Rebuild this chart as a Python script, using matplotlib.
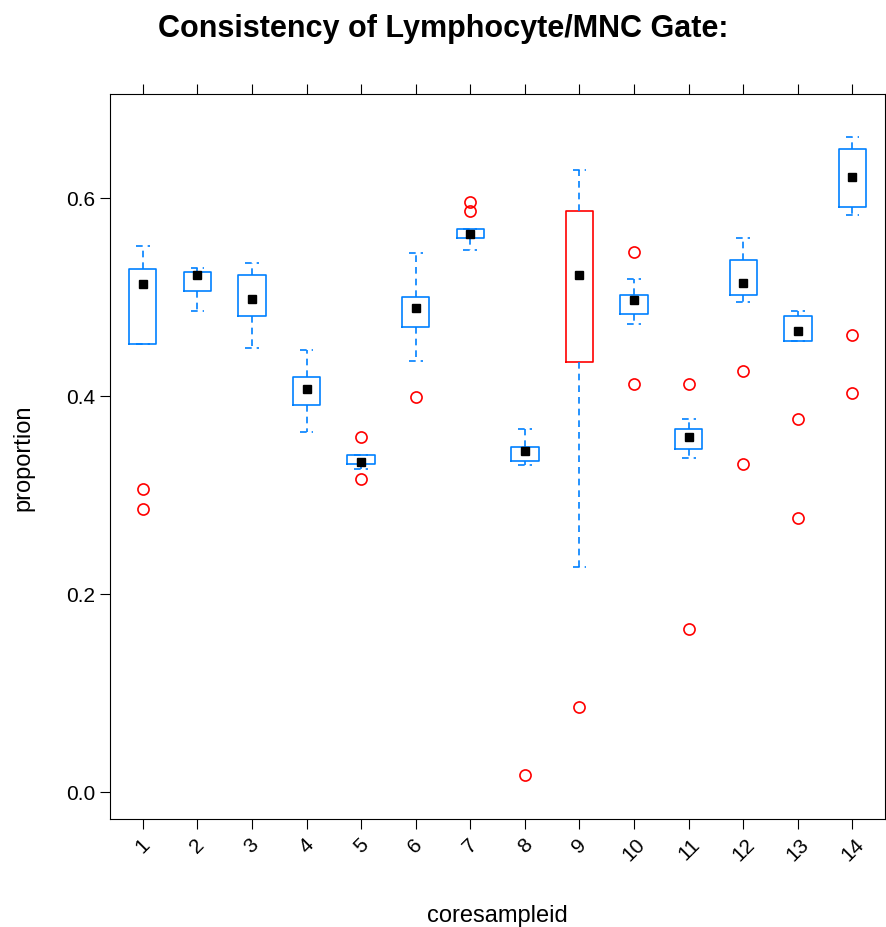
import matplotlib
matplotlib.use("Agg")
import matplotlib.pyplot as plt
plt.rcParams['font.family'] = ['Liberation Sans', 'DejaVu Sans']

categories = [str(i) for i in range(1, 15)]
whislo = [0.452,0.485,0.448,0.363,0.326,0.435,0.547,0.330,0.227,0.472,0.337,0.495,0.455,0.582]
q1     = [0.452,0.506,0.480,0.391,0.331,0.469,0.559,0.334,0.434,0.482,0.346,0.502,0.455,0.591]
med    = [0.513,0.522,0.498,0.407,0.333,0.488,0.563,0.344,0.522,0.497,0.358,0.514,0.465,0.621]
q3     = [0.528,0.525,0.522,0.419,0.340,0.500,0.568,0.348,0.586,0.502,0.366,0.537,0.480,0.649]
whishi = [0.551,0.529,0.534,0.446,0.340,0.544,0.568,0.366,0.628,0.518,0.376,0.559,0.485,0.661]
fliers = [[0.306,0.285],[],[],[],[0.358,0.316],[0.399],[0.596,0.586],[0.017],[0.085],
          [0.545,0.412],[0.412,0.164],[0.425,0.331],[0.376,0.276],[0.461,0.403]]
highlight = ["9"]

fig = plt.figure(figsize=(8.87, 9.28), dpi=100)
ax = fig.add_axes([0.124, 0.116, 0.874, 0.782])
blue = "#0080ff"
for i, c in enumerate(categories):
    col = "red" if c in highlight else blue
    st = dict(whislo=whislo[i], q1=q1[i], med=med[i], q3=q3[i], whishi=whishi[i], fliers=[])
    ax.bxp([st], positions=[i+1], widths=0.5, showfliers=False,
           boxprops=dict(color=col, lw=1.2),
           whiskerprops=dict(color=blue, lw=1.2, linestyle=(0, (4, 3))),
           capprops=dict(color=blue, lw=1.2, linestyle=(0, (4, 3))),
           medianprops=dict(visible=False))
    ax.plot([i+1], [med[i]], marker="s", color="black", ms=6, ls="none")
    ax.plot([i+1]*len(fliers[i]), fliers[i], marker="o", mfc="none", mec="red",
            ms=8, mew=1.2, ls="none")

ax.set_xlim(0.4, 14.6)
ax.set_ylim(-0.028, 0.705)
ax.set_xticks(range(1, 15))
ax.set_xticklabels(categories, rotation=45, fontsize=15)
ax.set_yticks([0.0, 0.2, 0.4, 0.6])
ax.set_yticklabels(["0.0", "0.2", "0.4", "0.6"], fontsize=15)
ax.tick_params(direction="out", length=7, top=True, right=True, labeltop=False, labelright=False)
ax.set_xlabel("coresampleid", fontsize=17, labelpad=29)
ax.set_ylabel("proportion", fontsize=17, labelpad=23)
fig.suptitle("Consistency of Lymphocyte/MNC Gate:", fontsize=22, fontweight="bold", y=0.985)
fig.savefig("out.png", dpi=100)
